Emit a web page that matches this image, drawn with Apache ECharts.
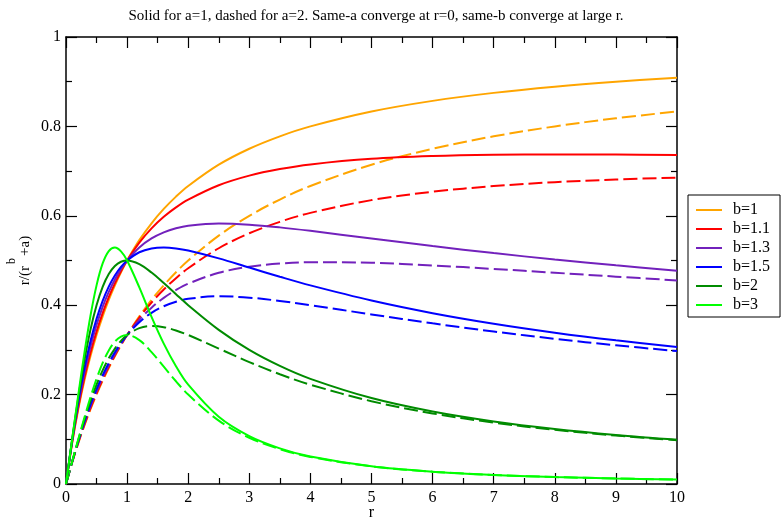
<!DOCTYPE html>
<html><head><meta charset="utf-8">
<script src="https://cdn.jsdelivr.net/npm/echarts@6/dist/echarts.min.js"></script>
<style>html,body{margin:0;padding:0;background:#fff}#c{width:781px;height:519px}</style>
</head><body><div id="c"></div>
<script>
const titleText = 'Solid for a=1, dashed for a=2. Same-a converge at r=0, same-b converge at large r.';
const rVals = [0,0.1,0.2,0.3,0.4,0.5,0.6,0.7,0.8,0.9,1,1.2,1.4,1.6,1.8,2,2.5,3,3.5,4,5,6,7,8,9,10];
const bLabels = ['b=1','b=1.1','b=1.3','b=1.5','b=2','b=3'];
const colors = ['#FFA500','#FF0000','#7221BC','#0000FF','#008B00','#00FF00'];
// a = 1 (solid)
const b1_a1  = [0,0.0909,0.1667,0.2308,0.2857,0.3333,0.375,0.4118,0.4444,0.4737,0.5,0.5455,0.5833,0.6154,0.6429,0.6667,0.7143,0.75,0.7778,0.8,0.8333,0.8571,0.875,0.8889,0.9,0.9091];
const b11_a1 = [0,0.0926,0.1709,0.2370,0.2930,0.3409,0.3821,0.4178,0.4489,0.4761,0.5,0.5400,0.5719,0.5977,0.6188,0.6362,0.6684,0.6899,0.7046,0.7150,0.7275,0.7337,0.7366,0.7374,0.7370,0.7359];
const b13_a1 = [0,0.0952,0.1780,0.2481,0.3068,0.3556,0.3961,0.4297,0.4576,0.4808,0.5,0.5292,0.5493,0.5629,0.5720,0.5777,0.5826,0.5801,0.5741,0.5663,0.5492,0.5323,0.5166,0.5022,0.4892,0.4773];
const b15_a1 = [0,0.0969,0.1836,0.2577,0.3192,0.3694,0.4096,0.4415,0.4663,0.4855,0.5,0.5185,0.5270,0.5291,0.5271,0.5224,0.5048,0.4842,0.4637,0.4444,0.4105,0.3822,0.3586,0.3386,0.3214,0.3065];
const b2_a1  = [0,0.0990,0.1923,0.2752,0.3448,0.4,0.4412,0.4698,0.4878,0.4972,0.5,0.4918,0.4730,0.4494,0.4245,0.4,0.3448,0.3,0.2642,0.2353,0.1923,0.1622,0.14,0.1231,0.1098,0.0990];
const b3_a1  = [0,0.0999,0.1984,0.2921,0.3759,0.4444,0.4934,0.5212,0.5291,0.5205,0.5,0.4399,0.3739,0.3140,0.2635,0.2222,0.1504,0.1071,0.0798,0.0615,0.0397,0.0276,0.0203,0.0156,0.0123,0.0100];
// a = 2 (dashed)
const b1_a2  = [0,0.0476,0.0909,0.1304,0.1667,0.2,0.2308,0.2593,0.2857,0.3103,0.3333,0.375,0.4118,0.4444,0.4737,0.5,0.5556,0.6,0.6364,0.6667,0.7143,0.75,0.7778,0.8,0.8182,0.8333];
const b11_a2 = [0,0.0481,0.0922,0.1324,0.1691,0.2027,0.2335,0.2616,0.2875,0.3114,0.3333,0.3724,0.4060,0.4351,0.4605,0.4827,0.5274,0.5609,0.5865,0.6065,0.6351,0.6538,0.6664,0.6752,0.6812,0.6854];
const b13_a2 = [0,0.0488,0.0942,0.1358,0.1736,0.2078,0.2386,0.2663,0.2911,0.3134,0.3333,0.3673,0.3945,0.4164,0.4340,0.4482,0.4725,0.4861,0.4932,0.4961,0.4949,0.4890,0.4811,0.4726,0.4639,0.4555];
const b15_a2 = [0,0.0492,0.0957,0.1386,0.1775,0.2124,0.2434,0.2707,0.2946,0.3154,0.3333,0.3620,0.3829,0.3976,0.4077,0.4142,0.4200,0.4169,0.4095,0.4,0.3794,0.3594,0.3411,0.3248,0.3103,0.2974];
const b2_a2  = [0,0.0498,0.0980,0.1435,0.1852,0.2222,0.2542,0.2811,0.3030,0.3203,0.3333,0.3488,0.3535,0.3509,0.3435,0.3333,0.3030,0.2727,0.2456,0.2222,0.1852,0.1579,0.1373,0.1212,0.1084,0.0980];
const b3_a2  = [0,0.0500,0.0996,0.1480,0.1938,0.2353,0.2708,0.2988,0.3185,0.3298,0.3333,0.3219,0.2951,0.2625,0.2298,0.2,0.1418,0.1034,0.0780,0.0606,0.0394,0.0275,0.0203,0.0156,0.0123,0.0100];
const xTicks = [0,1,2,3,4,5,6,7,8,9,10];
const yTicks = [0,0.2,0.4,0.6,0.8,1];

const solid = [b1_a1,b11_a1,b13_a1,b15_a1,b2_a1,b3_a1];
const dashed = [b1_a2,b11_a2,b13_a2,b15_a2,b2_a2,b3_a2];
const FONT = '"Liberation Serif", "Times New Roman", serif';
const zip = ys => rVals.map((r,i)=>[r, ys[i]]);

const series = [];
solid.forEach((ys,i)=>{
  series.push({name: bLabels[i], type:'line', data: zip(ys), smooth: 0.35, symbol:'none',
    lineStyle:{color: colors[i], width: 2}, itemStyle:{color: colors[i]}, z: 3});
});
dashed.forEach((ys,i)=>{
  series.push({name: bLabels[i]+' (a=2)', type:'line', data: zip(ys), smooth: 0.35, symbol:'none',
    lineStyle:{color: colors[i], width: 2, type:[14,5]}, itemStyle:{color: colors[i]}, z: 2});
});

const axisCommon = {
  axisLine:{show:true, onZero:false, lineStyle:{color:'#000', width:1.5}},
  axisTick:{show:true, inside:true, length:11, lineStyle:{color:'#000', width:1.2}},
  minorTick:{show:true, splitNumber:2, length:6, lineStyle:{color:'#000', width:1.2}},
  splitLine:{show:false}
};

const chart = echarts.init(document.getElementById('c'), null, {renderer:'canvas'});
chart.setOption({
  animation:false,
  backgroundColor:'#fff',
  title:{text: titleText, left: 371, textAlign:'center', top: 4,
    textStyle:{fontFamily: FONT, fontSize: 15, fontWeight:'normal', color:'#000'}},
  grid:{left:66, right:104, top:37, bottom:35, show:false, containLabel:false, outerBoundsMode:'none'},
  legend:{data: bLabels, orient:'vertical', left:688, top:195, itemWidth:26, itemHeight:2, itemGap:3,
    icon:'rect', padding:[7,10,4,8], borderColor:'#000', borderWidth:1, backgroundColor:'#fff',
    textStyle:{fontFamily: FONT, fontSize:16, lineHeight:16, color:'#000', padding:[0,0,0,6]},
    selectedMode:false},
  xAxis:[
    Object.assign({type:'value', min:0, max:10, interval:1, position:'bottom', name:'r', nameLocation:'middle', nameGap:21,
      nameMoveOverlap:false,
      nameTextStyle:{fontFamily: FONT, fontSize:16, color:'#000'},
      axisLabel:{fontFamily: FONT, fontSize:16, color:'#000', margin:6,
        formatter: v => xTicks.includes(v) ? String(v) : ''}}, axisCommon),
    Object.assign({type:'value', min:0, max:10, interval:1, position:'top', axisLabel:{show:false}}, axisCommon)
  ],
  yAxis:[
    Object.assign({type:'value', min:0, max:1, interval:0.2, position:'left', name:'r/(r{sup|b}+a)', nameLocation:'middle', nameGap:22, nameRotate:90,
      nameMoveOverlap:false,
      nameTextStyle:{fontFamily: FONT, fontSize:15, color:'#000', rich:{sup:{fontFamily: FONT, fontSize:12, color:'#000', padding:[0,2,26,2]}}},
      axisLabel:{fontFamily: FONT, fontSize:16, color:'#000', margin:5,
        formatter: v => yTicks.some(t=>Math.abs(t-v)<1e-9) ? String(+v.toFixed(1)) : ''}}, axisCommon),
    Object.assign({type:'value', min:0, max:1, interval:0.2, position:'right', axisLabel:{show:false}}, axisCommon)
  ],
  series: series
});
</script></body></html>
